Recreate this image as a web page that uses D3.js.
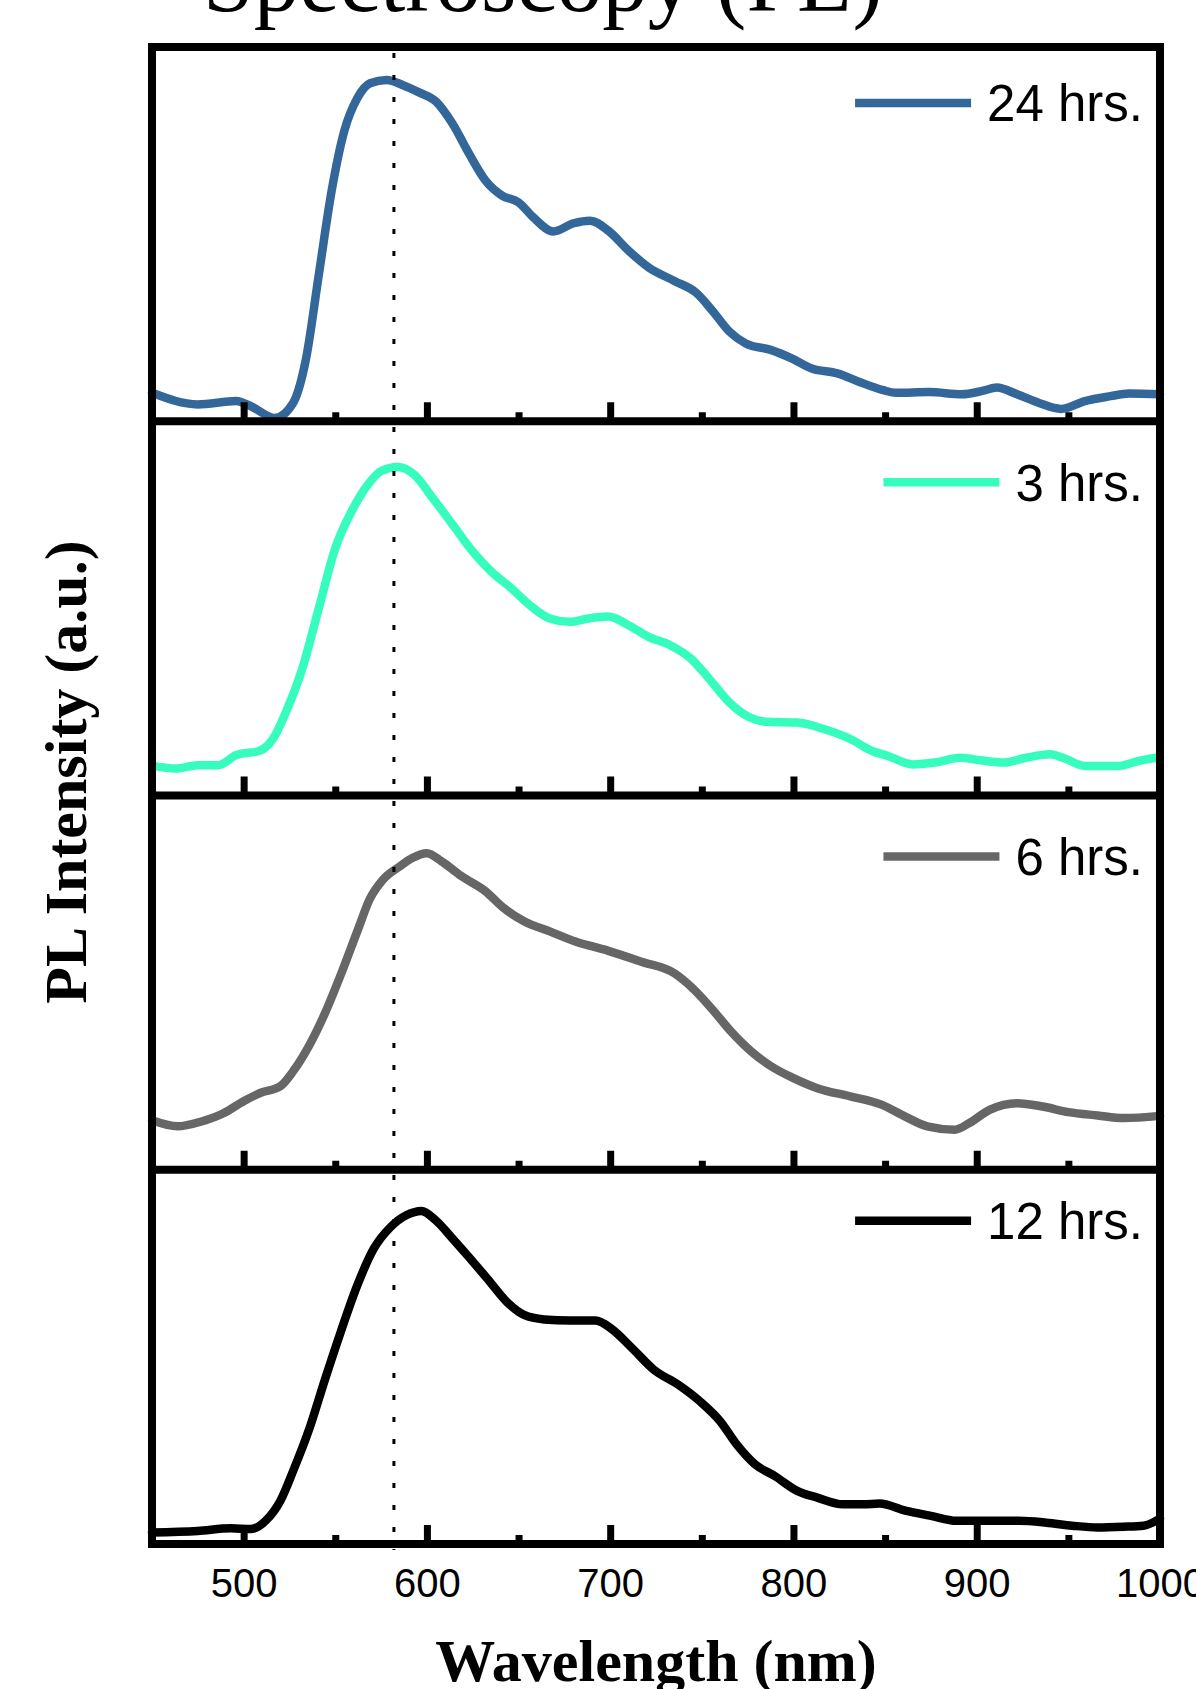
<!DOCTYPE html>
<html>
<head>
<meta charset="utf-8">
<script src="https://cdn.jsdelivr.net/npm/d3@7"></script>
<style>
  body { margin: 0; background: #fff; }
  svg { display: block; }
</style>
</head>
<body>
<svg id="chart" width="1196" height="1689"></svg>
<script>
// PL spectra, intensity in arbitrary units (0–100 per panel), wavelength in nm
const wl24 = [450,475,496,504,517,527,534,541,548,555,562,569,578,587,596,605,614,623,632,641,650,658,669,680,689,699,710,721,735,747,756,765,774,788,799,810,824,836,849,856,874,892,903,911,922,934,946,959,973,983,1000];
const pl24 = [7.6,4.5,5.4,4.0,0.9,4.9,16.6,39.1,61.5,77.7,86.3,90.3,91.2,89.8,87.8,85.4,79.5,71.5,64.3,60.3,58.5,54.5,50.7,52.9,53.6,50.9,45.6,41.1,37.5,34.3,29.4,24.0,20.8,19.0,16.8,14.1,12.8,10.5,8.3,7.6,7.8,7.2,8.1,9.0,7.2,4.9,3.3,5.4,6.7,7.4,7.2];

const wl3 = [450,463,475,486,496,509,516,523,532,541,550,559,568,575,584,593,603,614,625,635,646,656,667,678,688,699,710,721,733,744,754,765,776,785,802,817,831,843,852,865,877,891,902,915,927,940,948,959,977,988,1000];
const pl3 = [8.0,7.2,8.1,8.1,10.8,12.0,15.1,22.2,33.9,50.0,66.1,76.0,83.2,86.7,87.8,85.8,79.6,72.4,65.2,59.9,55.4,50.9,47.3,46.4,47.3,47.8,45.5,42.4,40.1,36.6,31.2,24.9,20.9,19.7,19.5,17.7,15.1,11.9,10.5,8.3,8.8,10.1,9.4,8.8,10.1,11.0,9.9,7.9,7.9,9.2,10.3];

const wl6 = [450,464,477,489,500,509,520,527,536,544,553,562,569,576,585,592,600,608,619,632,642,653,667,681,699,717,735,745,756,766,777,788,800,813,831,848,861,873,888,896,907,922,936,950,966,980,1000];
const pl6 = [13.2,11.6,12.9,15.1,18.3,20.5,22.3,26.3,33.4,41.4,52.1,63.7,72.5,77.5,81.0,83.3,84.6,82.4,78.4,74.4,69.9,66.4,63.7,61.0,58.5,55.6,52.5,48.5,42.7,36.9,31.6,27.6,24.5,21.8,19.6,17.4,14.2,11.6,10.7,12.5,16.0,17.8,16.9,15.4,14.5,13.8,14.4];

const wl12 = [450,475,493,504,512,520,527,536,544,553,562,571,580,589,597,605,614,623,633,644,653,664,678,692,701,712,724,737,749,760,769,779,790,802,813,827,838,847,861,875,889,906,923,938,952,966,980,991,1000];
const pl12 = [3.1,3.5,4.2,4.0,6.2,11.5,19.5,31.0,43.4,56.7,69.1,78.9,84.6,87.9,89.0,86.4,81.6,76.6,70.9,64.5,61.2,60.0,59.7,59.7,57.4,52.3,46.5,42.6,38.1,32.8,26.6,21.3,18.1,14.2,12.4,10.6,10.6,10.8,8.9,7.5,6.2,6.2,6.2,5.7,4.9,4.4,4.6,4.9,6.8];

const seriesLabels = ["24 hrs.", "3 hrs.", "6 hrs.", "12 hrs."];
const seriesColors = ["#336699", "#36FDBE", "#666666", "#000000"];
const seriesWl = [wl24, wl3, wl6, wl12];
const seriesPl = [pl24, pl3, pl6, pl12];

const majorTicks = [500, 600, 700, 800, 900, 1000];
const minorTicks = [550, 650, 750, 850, 950];
const markerWl = 582;

const titleText = "Spectroscopy (PL)";
const xTitle = "Wavelength (nm)";
const yTitle = "PL Intensity (a.u.)";

// layout
const plotLeft = 152, plotRight = 1160, plotTop = 47, plotBottom = 1544;
const nPanels = seriesLabels.length;
const panelH = (plotBottom - plotTop) / nPanels;
const legendDy = [56, 61, 61, 51];
const frameW = 8;

const svg = d3.select("#chart");

const x = d3.scaleLinear().domain([450, 1000]).range([plotLeft, plotRight]);

// title (partly above the page edge)
svg.append("text")
  .attr("x", 543).attr("y", 11)
  .attr("text-anchor", "middle")
  .attr("font-family", "'Liberation Serif', 'Times New Roman', serif")
  .attr("font-size", 91)
  .attr("fill", "#000")
  .text(titleText);

const line = d3.line().curve(d3.curveMonotoneX);

for (let i = 0; i < nPanels; i++) {
  const pTop = plotTop + i * panelH;
  const pBot = pTop + panelH;
  const y = d3.scaleLinear().domain([0, 100]).range([pBot, pTop]);
  const g = svg.append("g");

  const pts = seriesWl[i].map((w, k) => [x(w), y(seriesPl[i][k])]);
  g.append("path")
    .attr("d", line(pts))
    .attr("fill", "none")
    .attr("stroke", seriesColors[i])
    .attr("stroke-width", 8.5)
    .attr("stroke-linejoin", "round")
    .attr("stroke-linecap", "round");

  // inward ticks along the bottom edge of every panel
  const major = d3.axisBottom(x).tickValues(majorTicks).tickSize(-19).tickFormat("");
  const minor = d3.axisBottom(x).tickValues(minorTicks).tickSize(-9).tickFormat("");
  [major, minor].forEach(ax => {
    const a = g.append("g").attr("transform", `translate(0,${pBot})`).call(ax);
    a.select(".domain").remove();
    a.selectAll(".tick line").attr("stroke", "#000").attr("stroke-width", 7);
  });

  // legend
  const ly = pTop + legendDy[i];
  const lt = g.append("text")
    .attr("x", 1143).attr("y", ly)
    .attr("dy", "0.36em")
    .attr("text-anchor", "end")
    .attr("font-family", "'Liberation Sans', Arial, sans-serif")
    .attr("font-size", 51)
    .attr("fill", "#000")
    .text(seriesLabels[i]);
  const tw = lt.node().getComputedTextLength();
  const lx1 = 1143 - tw - 16;
  g.append("line")
    .attr("x1", lx1 - 116).attr("x2", lx1)
    .attr("y1", ly).attr("y2", ly)
    .attr("stroke", seriesColors[i])
    .attr("stroke-width", 8.5);
}

// dotted marker line
svg.append("line")
  .attr("x1", x(markerWl)).attr("x2", x(markerWl))
  .attr("y1", plotTop + 6).attr("y2", plotBottom + 6)
  .attr("stroke", "#000")
  .attr("stroke-width", 3)
  .attr("stroke-dasharray", "5,17");

// frame and separators
svg.append("rect")
  .attr("x", plotLeft).attr("y", plotTop)
  .attr("width", plotRight - plotLeft).attr("height", plotBottom - plotTop)
  .attr("fill", "none").attr("stroke", "#000").attr("stroke-width", frameW);
for (let i = 1; i < nPanels; i++) {
  const yy = plotTop + i * panelH;
  svg.append("line")
    .attr("x1", plotLeft).attr("x2", plotRight)
    .attr("y1", yy).attr("y2", yy)
    .attr("stroke", "#000").attr("stroke-width", frameW);
}

// x tick labels
const labels = svg.append("g")
  .attr("transform", `translate(0,${plotBottom})`)
  .call(d3.axisBottom(x).tickValues(majorTicks).tickSize(0).tickPadding(25).tickFormat(d3.format("d")));
labels.select(".domain").remove();
labels.selectAll("text")
  .attr("font-family", "'Liberation Sans', Arial, sans-serif")
  .attr("font-size", 40)
  .attr("fill", "#000");

// axis titles
svg.append("text")
  .attr("x", (plotLeft + plotRight) / 2).attr("y", 1681)
  .attr("text-anchor", "middle")
  .attr("font-family", "'Liberation Serif', 'Times New Roman', serif")
  .attr("font-weight", "bold")
  .attr("font-size", 60)
  .attr("fill", "#000")
  .text(xTitle);

svg.append("text")
  .attr("transform", "translate(86,772) rotate(-90)")
  .attr("text-anchor", "middle")
  .attr("font-family", "'Liberation Serif', 'Times New Roman', serif")
  .attr("font-weight", "bold")
  .attr("font-size", 60)
  .attr("fill", "#000")
  .text(yTitle);
</script>
</body>
</html>
